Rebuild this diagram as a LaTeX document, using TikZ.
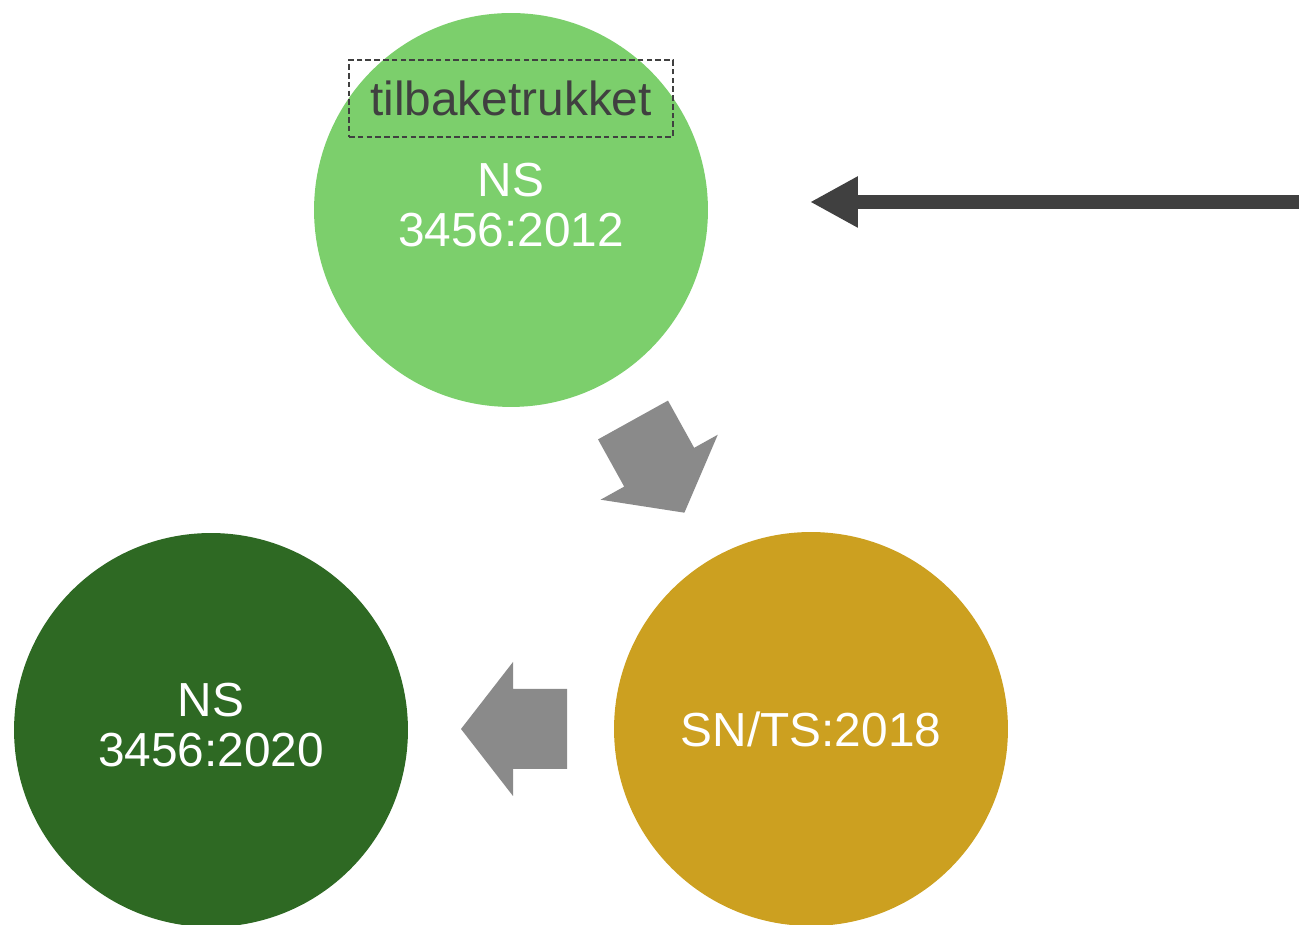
\documentclass[tikz,border=0pt]{standalone}
\usepackage{fontspec}
\setmainfont{Liberation Sans}
\usetikzlibrary{arrows.meta}

\definecolor{lightgrn}{HTML}{7CCF6C}
\definecolor{darkgrn}{HTML}{2E6923}
\definecolor{gold}{HTML}{CCA020}
\definecolor{blockgray}{HTML}{8A8A8A}
\definecolor{darkgray}{HTML}{404040}

\begin{document}
\begin{tikzpicture}[x = 0.02cm, y = 0.02cm, % one unit is one pixel
                > = {Triangle[length=0.96cm, width=0.96cm]}, % arrow head style
                blockarrow/.pic = {\fill[blockgray] (0,-40) -- (54,-40) -- (54,-67)
                    -- (106,0) -- (54,67) -- (54,40) -- (0,40) -- cycle;}
            ]

            \tikzstyle{every node}=[font = \fontsize{27.2}{28.45}\selectfont,
            align = center]
            \tikzstyle{stage}=[circle, inner sep = 0pt, minimum size = 7.88cm,
            text = white]

            \useasboundingbox (0,0) rectangle (1299,925);

            \node (ns2012) [stage, fill = lightgrn] at (511,715)
            {NS\\3456:2012\vphantom{g}};
            \node (snts) [stage, fill = gold] at (811,196) {SN/TS:2018};
            \node (ns2020) [stage, fill = darkgrn] at (211,195)
            {NS\\3456:2020\vphantom{g}};

            \node (withdrawn) [draw = darkgray, line width = 0.85pt,
            dash pattern = on 3.2pt off 1.8pt, text = darkgray,
            minimum width = 6.48cm, minimum height = 1.54cm, inner sep = 0pt]
            at (511,826.5) {tilbaketrukket};

            \pic[rotate = -61] at (633,505) {blockarrow};
            \pic[rotate = 180] at (567,196) {blockarrow};

            \coordinate (start) at (1299,723); \coordinate (tip) at (810,723);
            \draw[->, darkgray, line width = 0.28cm] (start) -- (tip);
        \end{tikzpicture}
\end{document}
